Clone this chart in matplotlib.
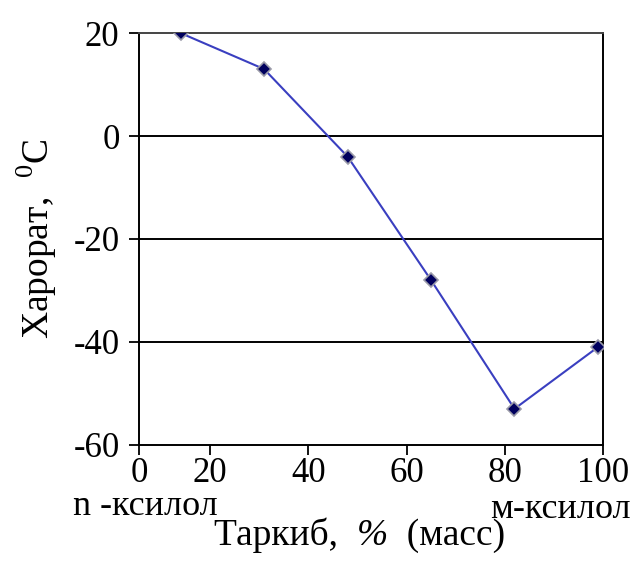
import matplotlib
matplotlib.use("Agg")
import matplotlib.pyplot as plt

# composition, % (mass) and temperature, deg C
composition = [14, 31, 48, 65, 82, 99]
temperature = [20, 13, -4, -28, -53, -41]

x_left = 5.5  # axis starts a bit right of zero in the original
x_ticks = [x_left, 20, 40, 60, 80, 100]
x_tick_labels = ["0", "20", "40", "60", "80", "100"]
y_ticks = [-60, -40, -20, 0, 20]
grid_levels = [-40, -20, 0]

plt.rcParams["font.family"] = ["Liberation Serif", "DejaVu Serif"]
plt.rcParams["mathtext.fontset"] = "custom"
plt.rcParams["mathtext.rm"] = "Liberation Serif"
plt.rcParams["axes.unicode_minus"] = False

fig = plt.figure(figsize=(6.42, 5.61), dpi=100)
ax = fig.add_axes([0.2165, 0.207, 0.7225, 0.734])

for lev in grid_levels:
    ax.axhline(lev, color="black", lw=1.4, zorder=1)

ax.plot(composition, temperature, color="#3a3fc0", lw=1.5, zorder=2)
ax.plot(composition, temperature, ls="none", marker="D", ms=7,
        mfc="#00005e", mec="#9a9aa8", mew=1.2, zorder=3)

ax.set_xlim(x_left, 100)
ax.set_ylim(-60, 20)
ax.set_xticks(x_ticks)
ax.set_xticklabels(x_tick_labels)
ax.set_yticks(y_ticks)

for side in ["left", "right", "top", "bottom"]:
    ax.spines[side].set_linewidth(1.4)
ax.spines["top"].set_color("#444444")

ax.tick_params(axis="both", direction="out", length=7, width=1.3, labelsize=25)
ax.tick_params(axis="y", pad=7)
ax.tick_params(axis="x", pad=2)

ax.set_ylabel("Харорат,  $^{0}$C", fontsize=27, labelpad=10)

# x label in three pieces so that % can be italic
t1 = fig.text(0.333, 1 - 553 / 561, "Таркиб,  ", fontsize=27, ha="left", va="bottom")
t2 = ax.annotate("%", xy=(1, 0), xycoords=t1, fontsize=27, style="italic",
                 ha="left", va="bottom", annotation_clip=False)
ax.annotate("  (масс)", xy=(1, 0), xycoords=t2, fontsize=27,
            ha="left", va="bottom", annotation_clip=False)

fig.text(0.114, 1 - 515 / 561, "n -ксилол", fontsize=26, ha="left", va="baseline")
fig.text(0.764, 1 - 518 / 561, "м-ксилол", fontsize=26, ha="left", va="baseline")

fig.savefig("out.png", dpi=100)
